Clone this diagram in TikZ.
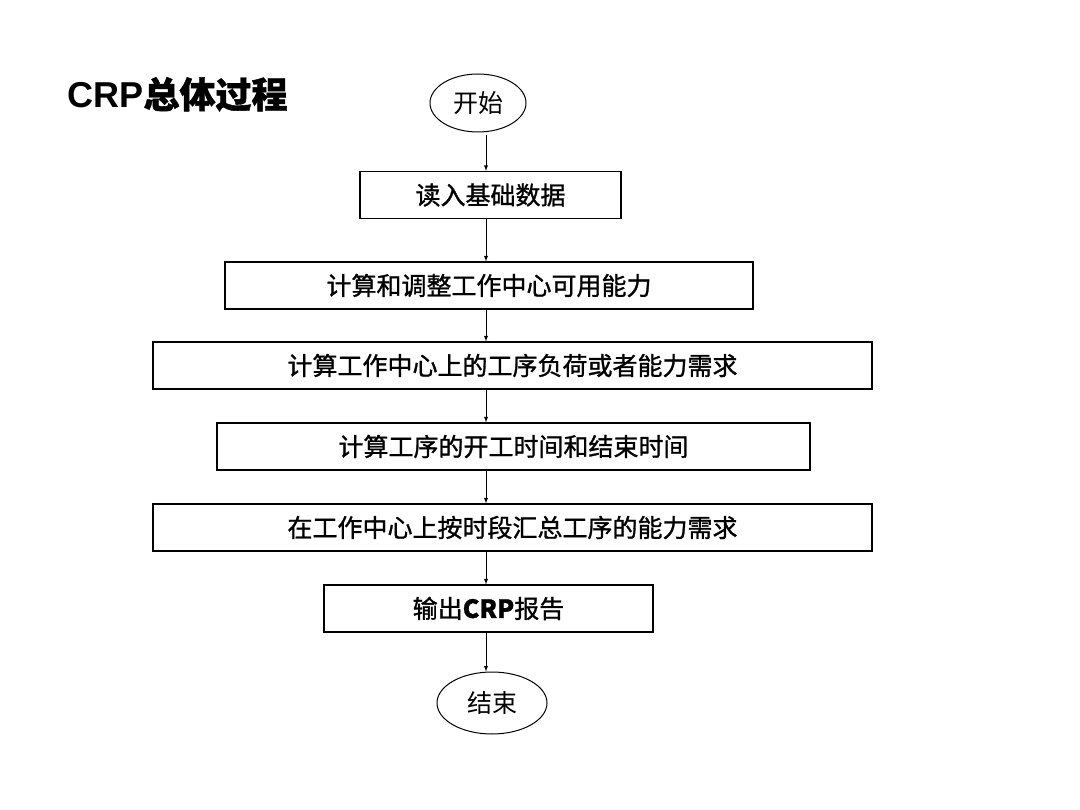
\documentclass[tikz,border=0pt]{standalone}
\usepackage{fontspec}
\setmainfont{Liberation Sans}
\newfontfamily\cjk[FakeBold=1.2]{Noto Sans CJK SC}
\newfontfamily\cjkr{Noto Sans CJK SC}
\usetikzlibrary{shapes.geometric}
\begin{document}
\begin{tikzpicture}[x=1pt,y=-1pt,
  box/.style={draw,line width=1.2pt,minimum height=47pt,inner sep=0pt,font=\fontsize{25}{25}\selectfont\cjk},
  oval/.style={draw,ellipse,line width=1pt,inner sep=0pt,font=\fontsize{25}{25}\selectfont\cjkr},
  arr/.style={-latex,line width=0.9pt}]
\useasboundingbox (0,0) rectangle (1080,810);
\node[anchor=base west,font=\fontsize{36}{36}\selectfont\bfseries] (t) at (64,108) {CRP{\cjk 总体过程}};
\node[oval,minimum width=96pt,minimum height=58pt] (s) at (478,103) {开始};
\node[box,minimum width=261pt] (b1) at (490.5,195) {读入基础数据};
\node[box,minimum width=528pt] (b2) at (489,285.5) {计算和调整工作中心可用能力};
\node[box,minimum width=719pt] (b3) at (512.5,365.5) {计算工作中心上的工序负荷或者能力需求};
\node[box,minimum width=593pt] (b4) at (513.5,446.5) {计算工序的开工时间和结束时间};
\node[box,minimum width=719pt] (b5) at (512.5,527.5) {在工作中心上按时段汇总工序的能力需求};
\node[box,minimum width=329pt] (b6) at (488.5,608.5) {输出\textbf{CRP}报告};
\node[oval,minimum width=110pt,minimum height=62pt] (e) at (492,703) {结束};
\coordinate (ax) at (486,0);
\draw[arr] (486,135) -- (b1.north -| ax);
\foreach \a/\b in {b1/b2,b2/b3,b3/b4,b4/b5,b5/b6,b6/e}
  \draw[arr] (\a.south -| ax) -- (\b.north -| ax);
\end{tikzpicture}
\end{document}
